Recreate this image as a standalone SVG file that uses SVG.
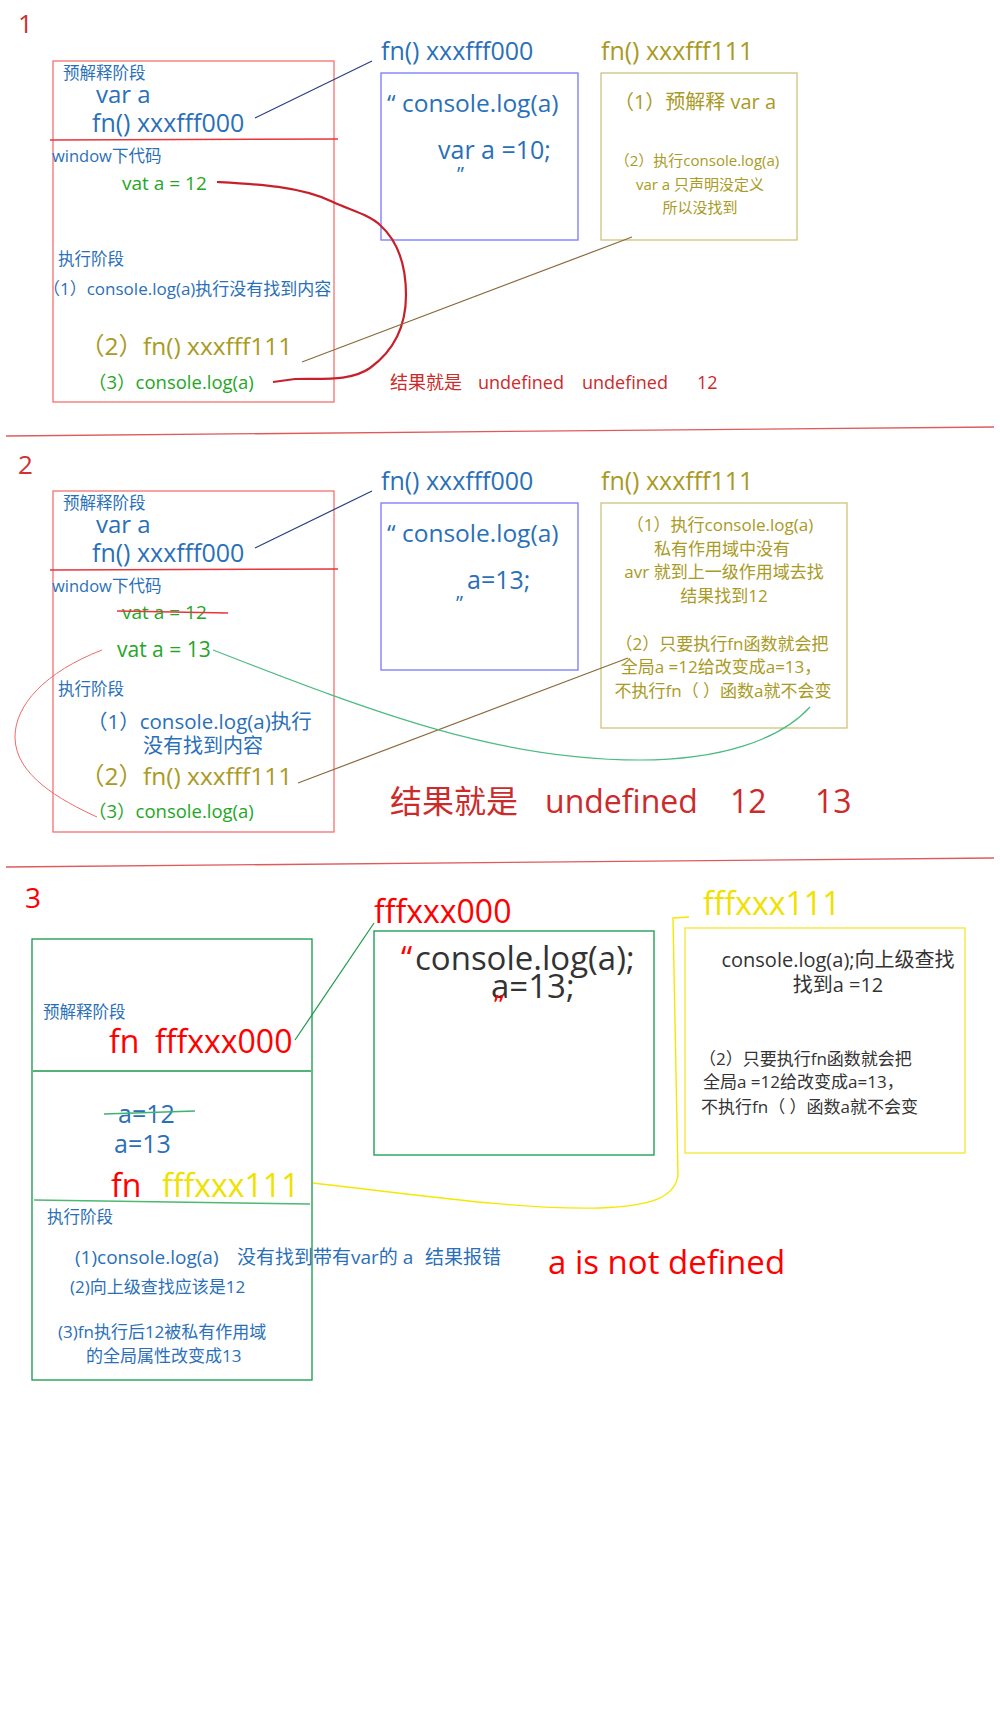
<svg xmlns="http://www.w3.org/2000/svg" width="1000" height="1726" viewBox="0 0 1000 1726">
<style>
text{font-family:"Open Sans","Noto Sans CJK SC",sans-serif;}
.b{fill:#2a70b8}
.o{fill:#a99a24}
.g{fill:#23a626}
.r{fill:#cc2b2b}
.R{fill:#ff0000}
.y{fill:#efe100}
.d{fill:#333333}
.m{text-anchor:middle}
.rb{fill:none;stroke:#f47070;stroke-width:1.3}
.bb{fill:none;stroke:#7777ff;stroke-width:1.3}
.ob{fill:none;stroke:#cfc37f;stroke-width:1.3}
.gb{fill:none;stroke:#11994a;stroke-width:1.3}
.yb{fill:none;stroke:#f5e630;stroke-width:1.3}
.sep{stroke:#e8343a;stroke-width:1.5}
.main{stroke:#e05a5a;stroke-width:1.3}
.c{fill:none}
</style>
<rect width="1000" height="1726" fill="#ffffff"/>

<!-- separators -->
<g id="separators">
  <line class="main" x1="6" y1="436" x2="994" y2="427"/>
  <line class="main" x1="6" y1="867" x2="994" y2="858"/>
</g>

<!-- ================= SECTION 1 ================= -->
<g id="s1-title"><text x="18" y="33" font-size="26" fill="#d03030">1</text></g>

<g id="s1-global">
  <rect class="rb" x="53" y="61" width="281" height="341"/>
  <text class="b" x="63" y="79" font-size="16.5">预解释阶段</text>
  <text class="b" x="96" y="103" font-size="24">var a</text>
  <text class="b" x="92" y="132" font-size="25">fn() xxxfff000</text>
  <line class="sep" x1="50" y1="140" x2="338" y2="139"/>
  <text class="b" x="52" y="162" font-size="16.5">window下代码</text>
  <text class="g" x="122" y="190" font-size="19">vat a = 12</text>
  <text class="b" x="58" y="265" font-size="16.5">执行阶段</text>
  <text class="b" x="43" y="295" font-size="17">（1）console.log(a)执行没有找到内容</text>
  <text class="o" x="80" y="355" font-size="24.5">（2）fn() xxxfff111</text>
  <text class="g" x="88" y="389" font-size="18.5">（3）console.log(a)</text>
</g>

<g id="s1-fn000">
  <text class="b" x="381" y="60" font-size="25">fn() xxxfff000</text>
  <rect class="bb" x="381" y="73" width="197" height="167"/>
  <text class="b" x="387" y="112" font-size="24.5">“ console.log(a)</text>
  <text class="b" x="438" y="159" font-size="25">var a =10;</text>
  <text class="b" x="457" y="181" font-size="20">”</text>
</g>

<g id="s1-fn111">
  <text class="o" x="601" y="60" font-size="25">fn() xxxfff111</text>
  <rect class="ob" x="601" y="73" width="196" height="167"/>
  <text class="o m" x="695" y="109" font-size="20">（1）预解释 var a</text>
  <text class="o m" x="697" y="166" font-size="15">（2）执行console.log(a)</text>
  <text class="o m" x="700" y="190" font-size="15">var a 只声明没定义</text>
  <text class="o m" x="700" y="213" font-size="15">所以没找到</text>
</g>

<g id="s1-result">
  <text class="r" y="389" font-size="18"><tspan x="390">结果就是</tspan><tspan x="478">undefined</tspan><tspan x="582">undefined</tspan><tspan x="697">12</tspan></text>
</g>

<!-- ================= SECTION 2 ================= -->
<g id="s2-title"><text x="18" y="474" font-size="26" fill="#d03030">2</text></g>

<g id="s2-global">
  <rect class="rb" x="53" y="491" width="281" height="341"/>
  <text class="b" x="63" y="509" font-size="16.5">预解释阶段</text>
  <text class="b" x="96" y="533" font-size="24">var a</text>
  <text class="b" x="92" y="562" font-size="25">fn() xxxfff000</text>
  <line class="sep" x1="50" y1="570" x2="338" y2="569"/>
  <text class="b" x="52" y="592" font-size="16.5">window下代码</text>
  <text class="g" x="122" y="619" font-size="19">vat a = 12</text>
  <line class="sep" x1="117" y1="611" x2="228" y2="613"/>
  <text class="g" x="117" y="657" font-size="21">vat a = 13</text>
  <text class="b" x="58" y="695" font-size="16.5">执行阶段</text>
  <text class="b" x="87" y="729" font-size="20.5">（1）console.log(a)执行</text>
  <text class="b" x="143" y="753" font-size="20">没有找到内容</text>
  <text class="o" x="80" y="785" font-size="24.5">（2）fn() xxxfff111</text>
  <text class="g" x="88" y="818" font-size="18.5">（3）console.log(a)</text>
</g>

<g id="s2-fn000">
  <text class="b" x="381" y="490" font-size="25">fn() xxxfff000</text>
  <rect class="bb" x="381" y="503" width="197" height="167"/>
  <text class="b" x="387" y="542" font-size="24.5">“ console.log(a)</text>
  <text class="b" x="467" y="589" font-size="25">a=13;</text>
  <text class="b" x="456" y="610" font-size="20">”</text>
</g>

<g id="s2-fn111">
  <text class="o" x="601" y="490" font-size="25">fn() xxxfff111</text>
  <rect class="ob" x="601" y="503" width="246" height="225"/>
  <text class="o m" x="720" y="531" font-size="17">（1）执行console.log(a)</text>
  <text class="o m" x="722" y="555" font-size="17">私有作用域中没有</text>
  <text class="o m" x="724" y="578" font-size="17">avr 就到上一级作用域去找</text>
  <text class="o m" x="724" y="602" font-size="17">结果找到12</text>
  <text class="o m" x="722" y="650" font-size="17">（2）只要执行fn函数就会把</text>
  <text class="o m" x="721" y="673" font-size="17">全局a =12给改变成a=13，</text>
  <text class="o m" x="723" y="697" font-size="17">不执行fn（ ）函数a就不会变</text>
</g>

<g id="s2-result">
  <text class="r" y="813" font-size="32"><tspan x="390">结果就是</tspan><tspan x="545">undefined</tspan><tspan x="730">12</tspan><tspan x="815">13</tspan></text>
</g>

<!-- ================= SECTION 3 ================= -->
<g id="s3-title"><text x="25" y="908" font-size="28" fill="#ff0000">3</text></g>

<g id="s3-global">
  <rect class="gb" x="32" y="939" width="280" height="441"/>
  <text class="b" x="43" y="1018" font-size="16.5">预解释阶段</text>
  <text y="1053" font-size="32"><tspan class="R" x="109">fn</tspan><tspan class="R" x="155">fffxxx000</tspan></text>
  <line x1="33" y1="1071" x2="311" y2="1071" stroke="#1a9a4a" stroke-width="1.3"/>
  <text class="b" x="118" y="1123" font-size="25">a=12</text>
  <line x1="104" y1="1114" x2="195" y2="1111" stroke="#3cb371" stroke-width="1.4"/>
  <text class="b" x="114" y="1153" font-size="25">a=13</text>
  <text y="1197" font-size="32"><tspan class="R" x="111">fn</tspan><tspan class="y" x="162">fffxxx111</tspan></text>
  <line x1="34" y1="1200" x2="310" y2="1204" stroke="#4cb870" stroke-width="1.4"/>
  <text class="b" x="47" y="1223" font-size="16.5">执行阶段</text>
  <text class="b" y="1264" font-size="19"><tspan x="75">(1)console.log(a)</tspan><tspan x="237">没有找到带有var的 a</tspan><tspan x="425">结果报错</tspan></text>
  <text class="b" x="70" y="1293" font-size="17">(2)向上级查找应该是12</text>
  <text class="b" x="58" y="1338" font-size="17">(3)fn执行后12被私有作用域</text>
  <text class="b" x="86" y="1362" font-size="17">的全局属性改变成13</text>
</g>

<g id="s3-fff000">
  <text class="R" x="374" y="923" font-size="32">fffxxx000</text>
  <rect class="gb" x="374" y="931" width="280" height="224"/>
  <text class="R" x="401" y="970" font-size="32">“</text>
  <text class="d" x="415" y="970" font-size="33">console.log(a);</text>
  <text class="d" x="491" y="998" font-size="33">a=13;</text>
  <text class="R" x="494" y="1015" font-size="28">”</text>
</g>

<g id="s3-fff111">
  <text class="y" x="703" y="915" font-size="32">fffxxx111</text>
  <rect class="yb" x="685" y="928" width="280" height="225"/>
  <text class="d m" x="838" y="967" font-size="20">console.log(a);向上级查找</text>
  <text class="d m" x="838" y="992" font-size="20">找到a =12</text>
  <text class="d" x="699" y="1065" font-size="17">（2）只要执行fn函数就会把</text>
  <text class="d" x="703" y="1088" font-size="17">全局a =12给改变成a=13，</text>
  <text class="d" x="701" y="1113" font-size="17">不执行fn（ ）函数a就不会变</text>
</g>

<g id="s3-result">
  <text class="R" x="548" y="1274" font-size="33">a is not defined</text>
</g>

<!-- ================= CONNECTORS ================= -->
<g id="connectors" class="c">
  <line x1="255" y1="118" x2="372" y2="61" stroke="#2b3f80" stroke-width="1.2"/>
  <path d="M217,182 C255,184 300,186 333,202 C350,210 370,215 380,225 C400,243 406,270 406,295 C406,325 395,350 370,368 C350,382 320,378 295,379 L273,382" stroke="#c8202a" stroke-width="2.2" fill="none"/>
  <line x1="302" y1="362" x2="632" y2="237" stroke="#8b6b3c" stroke-width="1.2"/>

  <line x1="255" y1="548" x2="372" y2="491" stroke="#2b3f80" stroke-width="1.2"/>
  <path d="M102,650 C45,672 15,705 15,737 C15,775 60,800 97,817" stroke="#f06a6a" stroke-width="1" fill="none"/>
  <line x1="298" y1="783" x2="628" y2="658" stroke="#8b6b3c" stroke-width="1.2"/>
  <path d="M213,650 C380,715 500,760 640,760 C720,760 780,740 810,707" stroke="#4cbb80" stroke-width="1.2" fill="none"/>

  <line x1="295" y1="1040" x2="374" y2="923" stroke="#1a9a4a" stroke-width="1.2"/>
  <path d="M313,1183 C420,1195 520,1210 600,1208 C650,1206 675,1198 678,1175 L673,918 L689,917" stroke="#f5e800" stroke-width="1.4" fill="none"/>
</g>
</svg>
